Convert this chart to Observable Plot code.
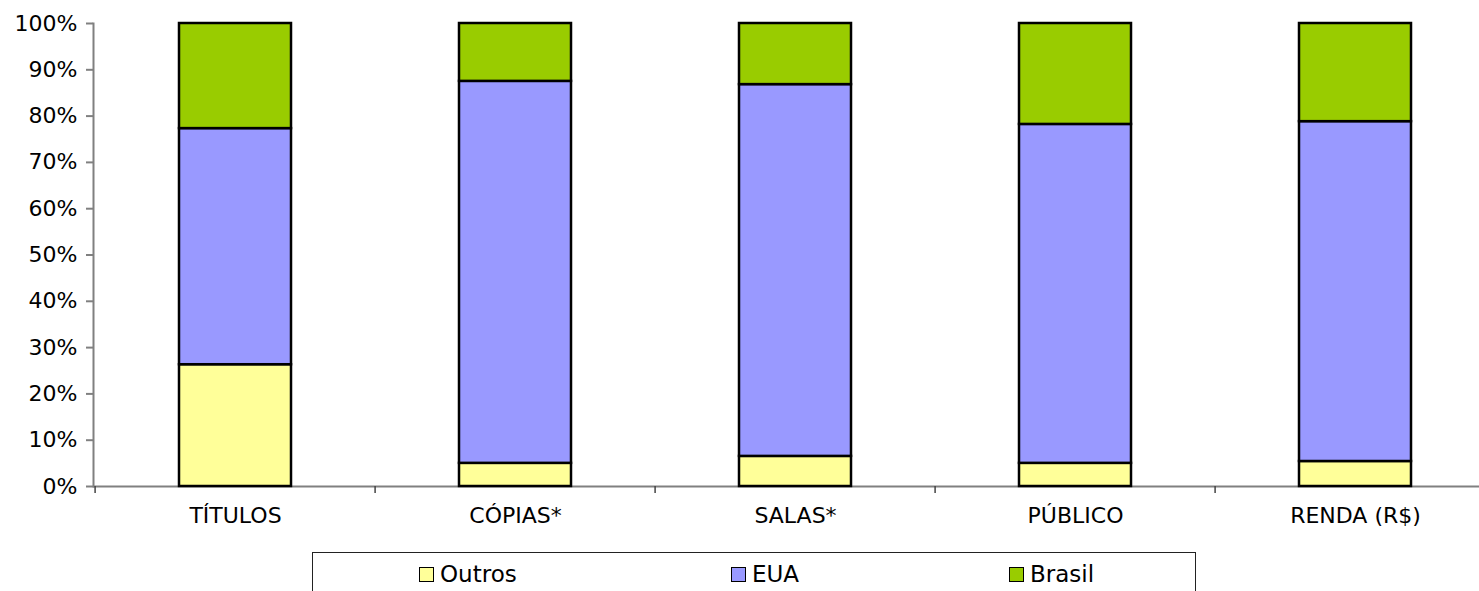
<!DOCTYPE html>
<html>
<head>
<meta charset="utf-8">
<script src="https://cdn.jsdelivr.net/npm/d3@7"></script>
<script src="https://cdn.jsdelivr.net/npm/@observablehq/plot@0.6"></script>
<style>
  html, body { margin: 0; padding: 0; background: #fff; overflow: hidden; }
  body { position: relative; width: 1479px; height: 591px; font-family: "DejaVu Sans", Verdana, sans-serif; }
  #chart { position: absolute; left: 0; top: 0; width: 1500px; }
  #chart svg { max-width: none !important; }
  #legend { position: absolute; left: 312px; top: 552px; width: 884px; height: 60px; border: 1px solid #222; box-sizing: border-box; }
  .item { position: absolute; top: 8px; display: flex; align-items: center; font-size: 23px; color: #000; }
  .sw { width: 13px; height: 13px; border: 1.5px solid #000; margin-right: 6px; }
</style>
</head>
<body>
<div id="chart"></div>
<div id="legend"></div>
<script>
const categories = ["TÍTULOS", "CÓPIAS*", "SALAS*", "PÚBLICO", "RENDA (R$)"];
const series = ["Outros", "EUA", "Brasil"];
const outros = [26.3, 5.0, 6.5, 5.0, 5.4];
const eua    = [51.0, 82.5, 80.3, 73.2, 73.4];
const brasil = [22.7, 12.5, 13.2, 21.8, 21.2];
const colors = ["#FFFF99", "#9999FF", "#99CC00"];
const yTicks = [0, 0.1, 0.2, 0.3, 0.4, 0.5, 0.6, 0.7, 0.8, 0.9, 1.0];

const values = [outros, eua, brasil];
const data = [];
categories.forEach((c, i) => {
  series.forEach((s, j) => data.push({cat: c, serie: s, value: values[j][i]}));
});

const W = 1500, ML = 93, MR = 3;
const step = (W - ML - MR) / categories.length;

const chart = Plot.plot({
  width: W,
  height: 540,
  marginLeft: ML,
  marginRight: MR,
  marginTop: 23,
  marginBottom: 54,
  style: {fontFamily: "DejaVu Sans, Verdana, sans-serif", fontSize: "22px", color: "#000", background: "#fff", maxWidth: "none"},
  x: {domain: categories, paddingInner: 0.6, paddingOuter: 0.3, label: null},
  y: {domain: [0, 1], label: null},
  color: {domain: series, range: colors},
  marks: [
    Plot.ruleY([0], {stroke: "#808080", strokeWidth: 2}),
    Plot.frame({anchor: "left", stroke: "#808080", strokeWidth: 2}),
    Plot.axisY({ticks: yTicks, tickFormat: d3.format(".0%"), tickSize: 7, tickPadding: 9, stroke: "#808080", strokeWidth: 2, label: null}),
    Plot.axisX({tickSize: 7, tickFormat: () => "", dx: -step / 2, stroke: "#444", strokeWidth: 1.5, label: null}),
    Plot.axisX({tickSize: 0, tickPadding: 21, label: null}),
    Plot.barY(data, Plot.stackY({x: "cat", y: d => d.value / 100, fill: "serie", stroke: "#000", strokeWidth: 2.5}))
  ]
});
document.getElementById("chart").appendChild(chart);

const legend = document.getElementById("legend");
const offsets = [106, 418, 696];
series.forEach((s, i) => {
  const it = document.createElement("div");
  it.className = "item";
  it.style.left = offsets[i] + "px";
  const sw = document.createElement("div");
  sw.className = "sw";
  sw.style.background = colors[i];
  it.appendChild(sw);
  const t = document.createElement("span");
  t.textContent = s;
  it.appendChild(t);
  legend.appendChild(it);
});
</script>
</body>
</html>
